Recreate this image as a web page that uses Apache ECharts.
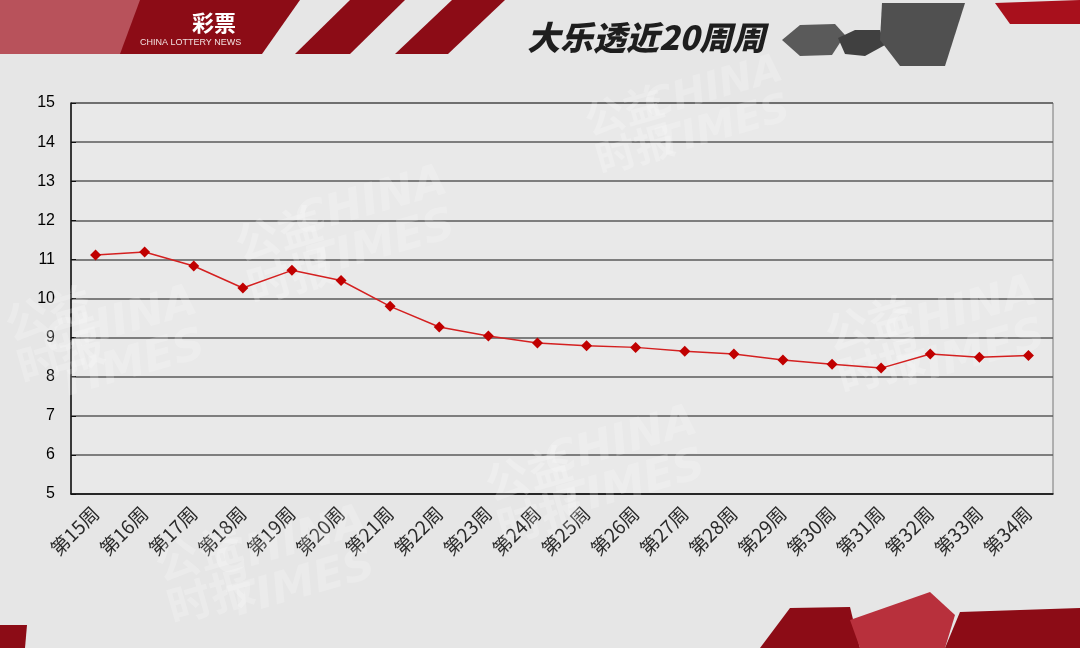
<!DOCTYPE html>
<html>
<head>
<meta charset="utf-8">
<script src="https://cdn.jsdelivr.net/npm/echarts@6/dist/echarts.min.js"></script>
<style>html,body{margin:0;padding:0;background:#e6e6e6;}#c{width:1080px;height:648px;}</style>
</head>
<body>
<div id="c"></div>
<script>
const weeks = ['第15周','第16周','第17周','第18周','第19周','第20周','第21周','第22周','第23周','第24周',
               '第25周','第26周','第27周','第28周','第29周','第30周','第31周','第32周','第33周','第34周'];
const sales = [11.11, 11.19, 10.83, 10.27, 10.72, 10.46, 9.80, 9.27, 9.04, 8.86,
               8.79, 8.75, 8.65, 8.58, 8.43, 8.32, 8.22, 8.58, 8.50, 8.54];
const yTicks = [5, 6, 7, 8, 9, 10, 11, 12, 13, 14, 15];
const title = '大乐透近20周周';
const brandEn = 'CHINA LOTTERY NEWS';
const brandCn = '彩票';

const chart = echarts.init(document.getElementById('c'));
const red = '#8c0c16';
const wm = (x, y, s) => ({
  type: 'text', left: x, top: y, rotation: 0.28, z: 1, silent: true,
  style: { text: '公益\n时报', fill: 'rgba(255,255,255,0.22)', font: 'bold ' + s + 'px "Noto Sans CJK SC"', lineHeight: s }
});
const wm2 = (x, y, s) => ({
  type: 'text', left: x, top: y, rotation: 0.28, z: 1, silent: true,
  style: { text: 'CHINA\nTIMES', fill: 'rgba(255,255,255,0.2)', font: 'italic bold ' + s + 'px "DejaVu Sans"', lineHeight: s }
});
chart.setOption({
  backgroundColor: '#e6e6e6',
  animation: false,
  grid: { left: 71, right: 27, top: 103, bottom: 154, show: true, backgroundColor: '#e9e9e9', borderColor: '#777', borderWidth: 1 },
  xAxis: {
    type: 'category', data: weeks, boundaryGap: true,
    axisLine: { lineStyle: { color: '#111', width: 1.5 } },
    axisTick: { inside: true, length: 5, lineStyle: { color: '#111' } },
    axisLabel: { rotate: 45, interval: 0, margin: 16, fontSize: 19, color: '#2a2a2a', fontFamily: 'Noto Sans CJK SC', fontWeight: 'normal' }
  },
  yAxis: {
    type: 'value', min: yTicks[0], max: yTicks[yTicks.length - 1], interval: 1,
    axisLine: { show: true, lineStyle: { color: '#111', width: 1.5 } },
    axisTick: { show: true, inside: true, length: 5, lineStyle: { color: '#111' } },
    axisLabel: { margin: 16, fontSize: 16, color: '#000', fontFamily: 'Liberation Sans' },
    splitLine: { lineStyle: { color: '#5a5a5a', width: 1.5 } }
  },
  series: [{
    type: 'line', data: sales, symbol: 'diamond', symbolSize: 11,
    lineStyle: { color: '#d42020', width: 1.5 },
    itemStyle: { color: '#c00000' }, z: 5
  }],
  graphic: [
    wm(230, 200, 44), wm2(290, 160, 44),
    wm(580, 80, 40), wm2(640, 50, 40),
    wm(0, 280, 44), wm2(40, 280, 44),
    wm(480, 440, 44), wm2(540, 400, 44),
    wm(150, 520, 44), wm2(210, 500, 44),
    wm(820, 290, 44), wm2(880, 270, 44),
    // header banner
    { type: 'polygon', z: 10, shape: { points: [[0,0],[300,0],[262,54],[0,54]] }, style: { fill: red } },
    { type: 'polygon', z: 11, shape: { points: [[0,0],[140,0],[120,54],[0,54]] }, style: { fill: 'rgba(220,140,150,0.55)' } },
    { type: 'text', z: 12, left: 192, top: 12, style: { text: brandCn, fill: '#fff', font: 'bold 22px "Noto Sans CJK SC"' } },
    { type: 'text', z: 12, left: 140, top: 38, style: { text: brandEn, fill: '#f2e0e0', font: '9px "Liberation Sans"' } },
    { type: 'polygon', z: 10, shape: { points: [[350,0],[405,0],[350,54],[295,54]] }, style: { fill: red } },
    { type: 'polygon', z: 10, shape: { points: [[452,0],[505,0],[448,54],[395,54]] }, style: { fill: red } },
    { type: 'text', z: 12, left: 527, top: 21, style: { text: title, fill: '#1e1e1e', font: 'italic 900 33px "Noto Sans CJK SC"' } },
    // grey blobs
    { type: 'polygon', z: 10, shape: { points: [[782,40],[800,25],[835,24],[845,35],[832,55],[800,56]] }, style: { fill: '#5a5a5a' } },
    { type: 'polygon', z: 10, shape: { points: [[838,38],[855,30],[880,30],[885,45],[865,56],[845,54]] }, style: { fill: '#404040' } },
    { type: 'polygon', z: 10, shape: { points: [[882,3],[965,3],[945,66],[900,66],[880,40]] }, style: { fill: '#505050' } },
    { type: 'polygon', z: 10, shape: { points: [[995,3],[1080,0],[1080,24],[1010,24]] }, style: { fill: '#a8101c' } },
    // bottom red shapes
    { type: 'polygon', z: 10, shape: { points: [[0,625],[27,625],[25,648],[0,648]] }, style: { fill: red } },
    { type: 'polygon', z: 10, shape: { points: [[790,608],[850,607],[860,648],[760,648]] }, style: { fill: red } },
    { type: 'polygon', z: 10, shape: { points: [[850,620],[930,592],[955,615],[945,648],[860,648]] }, style: { fill: '#b8303c' } },
    { type: 'polygon', z: 10, shape: { points: [[960,612],[1080,608],[1080,648],[945,648]] }, style: { fill: red } }
  ]
});
</script>
</body>
</html>
